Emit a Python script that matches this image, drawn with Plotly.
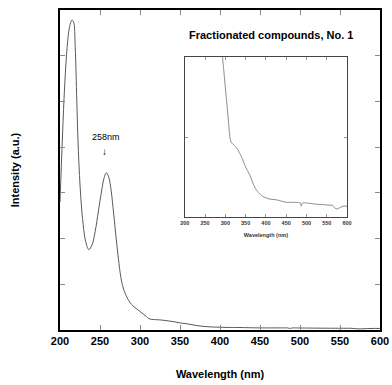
import plotly.graph_objects as go

# Main spectrum (wavelength nm, intensity a.u.)
wavelength = [200, 203, 206, 209, 212, 215, 217, 219, 221, 223, 226, 229, 232, 236,
              240, 244, 248, 252, 255, 258, 261, 264, 267, 270, 273, 276, 279, 282,
              285, 288, 291, 293, 296, 300, 304, 308, 311, 314, 318, 324, 330, 335,
              340, 345, 350, 355, 360, 365, 370, 375, 380, 385, 390, 400, 410, 425,
              450, 475, 485, 487, 490, 500, 525, 550, 565, 570, 575, 580, 590, 600]
intensity = [1.40, 2.10, 2.70, 3.10, 3.32, 3.39, 3.37, 3.10, 2.50, 1.95, 1.45, 1.15, 0.97, 0.88,
             0.93, 1.08, 1.30, 1.52, 1.66, 1.72, 1.67, 1.52, 1.28, 1.02, 0.78, 0.58, 0.46, 0.39,
             0.335, 0.295, 0.265, 0.25, 0.23, 0.202, 0.175, 0.147, 0.125, 0.117, 0.114, 0.111, 0.106, 0.100,
             0.094, 0.086, 0.078, 0.072, 0.066, 0.058, 0.050, 0.044, 0.039, 0.036, 0.033, 0.030, 0.028, 0.027,
             0.023, 0.023, 0.022, 0.017, 0.022, 0.022, 0.020, 0.019, 0.018, 0.014, 0.0125, 0.014, 0.017, 0.017]

x_ticks = [200, 250, 300, 350, 400, 450, 500, 550, 600]
title_text = "Fractionated compounds, No. 1"
peak_label = "258nm"
peak_wl = 258

FONT = "Liberation Sans, Arial, sans-serif"

fig = go.Figure()
fig.add_trace(go.Scatter(x=wavelength, y=intensity, mode="lines",
                         line=dict(color="#5a5a5a", width=1, shape="spline", smoothing=1.0),
                         showlegend=False, hoverinfo="skip"))
fig.add_trace(go.Scatter(x=wavelength, y=intensity, mode="lines",
                         line=dict(color="#8a8a8a", width=1, shape="spline", smoothing=0.3),
                         xaxis="x2", yaxis="y2", showlegend=False, hoverinfo="skip"))

fig.update_layout(
    width=392, height=385,
    margin=dict(l=60, r=12, t=10, b=55),
    paper_bgcolor="white", plot_bgcolor="white",
    font=dict(family=FONT, color="black"),
    xaxis=dict(domain=[0, 1], range=[200, 600], tickvals=x_ticks, automargin=False,
               ticks="inside", ticklen=5, tickwidth=1, tickcolor="#888",
               showline=True, linewidth=2, linecolor="black", mirror="ticks",
               showgrid=False, zeroline=False,
               tickfont=dict(size=11, family=FONT, weight="bold"),
               title=dict(text="<b>Wavelength (nm)</b>", font=dict(size=11), standoff=24)),
    yaxis=dict(domain=[0, 1], range=[0, 3.5], dtick=0.5, showticklabels=False, automargin=False,
               ticks="inside", ticklen=5, tickwidth=1, tickcolor="#888",
               showline=True, linewidth=2, linecolor="black", mirror="ticks",
               showgrid=False, zeroline=False,
               title=dict(text="<b>Intensity (a.u.)</b>", font=dict(size=11), standoff=36)),
    xaxis2=dict(domain=[0.39, 0.897], anchor="y2", range=[200, 600], tickvals=x_ticks,
                automargin=False,
                ticks="inside", ticklen=3, tickwidth=1, tickcolor="#999",
                showline=True, linewidth=1, linecolor="#444", mirror="ticks",
                showgrid=False, zeroline=False,
                tickfont=dict(size=5.5, family=FONT, weight="bold", color="#333"),
                title=dict(text="<b>Wavelength (nm)</b>", font=dict(size=5.5, color="#333"), standoff=8)),
    yaxis2=dict(domain=[0.353, 0.853], anchor="x2", range=[0, 0.25], dtick=0.125,
                automargin=False,
                showticklabels=False, ticks="inside", ticklen=3, tickwidth=1, tickcolor="#999",
                showline=True, linewidth=1, linecolor="#444", mirror="ticks",
                showgrid=False, zeroline=False),
    annotations=[
        dict(text="<b>" + title_text + "</b>", xref="paper", yref="paper", x=0.658, y=0.922,
             showarrow=False, font=dict(size=11, family=FONT), xanchor="center", yanchor="middle"),
        dict(text=peak_label, xref="x", yref="y", x=peak_wl, y=2.11, showarrow=False,
             font=dict(size=9, family=FONT), xanchor="center", yanchor="middle"),
        dict(text="↓", xref="x", yref="y", x=peak_wl - 2, y=1.95, showarrow=False,
             font=dict(size=10, family=FONT), xanchor="center", yanchor="middle"),
    ],
)

fig.write_html("out.html")
